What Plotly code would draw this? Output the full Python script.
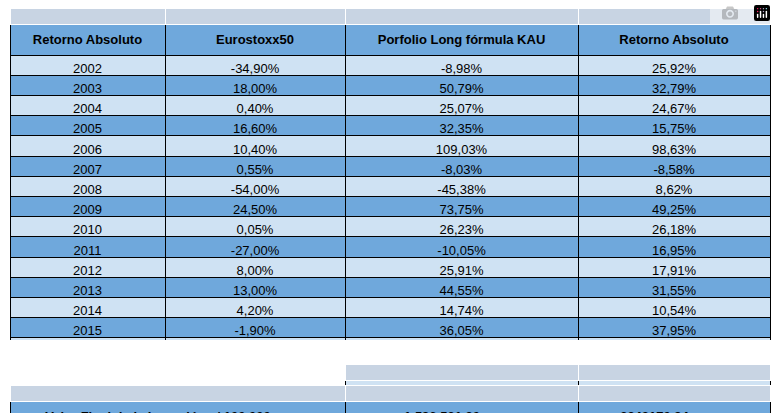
import plotly.graph_objects as go

years = ["2002","2003","2004","2005","2006","2007","2008","2009","2010","2011","2012","2013","2014","2015","2016"]
euro = ["-34,90%","18,00%","0,40%","16,60%","10,40%","0,55%","-54,00%","24,50%","0,05%","-27,00%","8,00%","13,00%","4,20%","-1,90%","4,70%"]
kau = ["-8,98%","50,79%","25,07%","32,35%","109,03%","-8,03%","-45,38%","73,75%","26,23%","-10,05%","25,91%","44,55%","14,74%","36,05%","19,40%"]
ret = ["25,92%","32,79%","24,67%","15,75%","98,63%","-8,58%","8,62%","49,25%","26,18%","16,95%","17,91%","31,55%","10,54%","37,95%","14,70%"]
headers = ["Retorno Absoluto","Eurostoxx50","Porfolio Long fórmula KAU","Retorno Absoluto"]
cagr = ["CAGR = 20,29%","CAGR = 25,00%"]
final = ["Valor Final de la Inversión s/ 100.000 euros","1.596.531,80 euros","2842170,94 euros"]

W, H = 776, 414
LIGHT, BLUE = "#cfe2f3", "#6fa8dc"
FONT = dict(family="Liberation Sans, Arial", size=13, color="#000")

def px(x0, x1): return [x0 / W, x1 / W]
def py(y0, y1): return [1 - y1 / H, 1 - y0 / H]

cols = [years, euro, kau, ret]
vals = [[f"<b>{h}</b>"] + c for h, c in zip(headers, cols)]
fills = [BLUE] + [LIGHT if i % 2 == 0 else BLUE for i in range(len(years))]

fig = go.Figure()
fig.add_trace(go.Table(
    domain=dict(x=px(10, 770), y=py(8, 340)),
    columnwidth=[155, 180, 233, 192],
    header=dict(values=[], height=0),
    cells=dict(values=vals, fill_color=[fills] * 4,
               line_color="black", height=20.2, font=FONT, align="center"),
))
fig.add_trace(go.Table(
    domain=dict(x=px(345, 770), y=py(364, 395)),
    columnwidth=[233, 192],
    header=dict(values=[], height=0),
    cells=dict(values=[[f"<b>{c}</b>"] for c in cagr], fill_color=LIGHT,
               line_color="black", height=21, font=FONT, align="center"),
))
fig.add_trace(go.Table(
    domain=dict(x=px(10, 770), y=py(385, 414)),
    columnwidth=[335, 233, 192],
    header=dict(values=[], height=0),
    cells=dict(values=[[f"<b>{c}</b>"] for c in final], fill_color=BLUE,
               line_color="black", height=21, font=FONT, align="center"),
))
fig.update_layout(width=W, height=H, margin=dict(l=0, r=0, t=0, b=0),
                  paper_bgcolor="white")
fig.write_html("out.html", post_script="document.body.style.margin='0';")
